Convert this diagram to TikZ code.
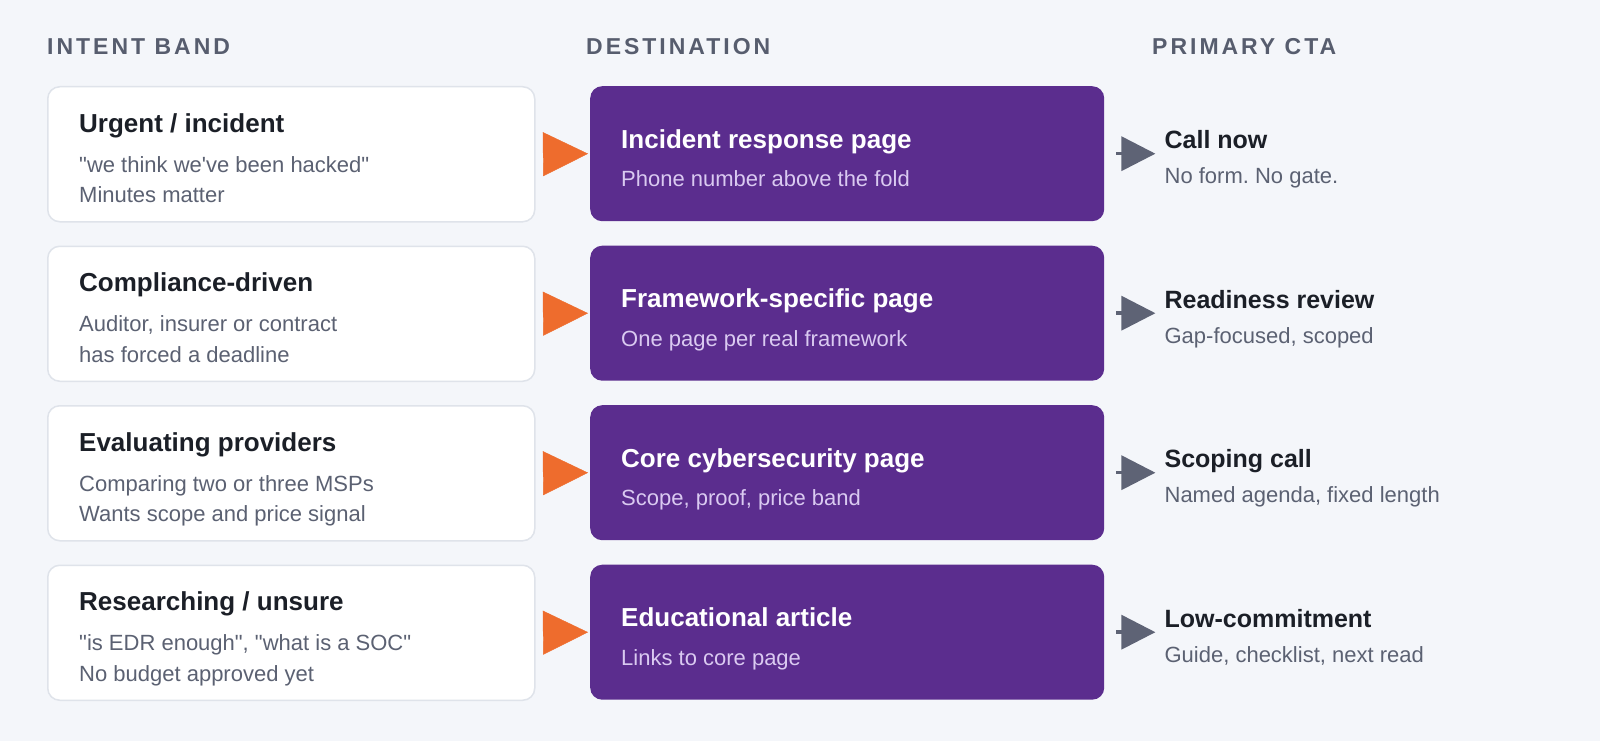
\documentclass[tikz,border=0pt]{standalone}
\usepackage{fontspec}
\setmainfont{Liberation Sans}[Ligatures=TeXOff]
\newfontface\headfont{Liberation Sans Bold}[Ligatures=TeXOff, LetterSpace=13]
\usepackage{xcolor}
\usetikzlibrary{arrows.meta}
\frenchspacing

\definecolor{pagebg}{HTML}{F4F6FA}
\definecolor{bandline}{HTML}{DFE3EA}
\definecolor{purplebox}{HTML}{5B2D8E}
\definecolor{arroworange}{HTML}{EE6C2D}
\definecolor{arrowgray}{HTML}{5E6375}
\definecolor{headgray}{HTML}{575D6E}
\definecolor{titledark}{HTML}{1B1F27}
\definecolor{subgray}{HTML}{5B6172}
\definecolor{sublavender}{HTML}{DACAF1}

\tikzset{
    bandnode/.style = {draw=bandline, line width=1.5pt, fill=white, rectangle, rounded corners=12pt,
      minimum width=487pt, minimum height=135pt, anchor=north west, inner sep=0em},
    destnode/.style = {draw=none, fill=purplebox, rectangle, rounded corners=12pt,
      minimum width=514pt, minimum height=135pt, anchor=north west, inner sep=0em},
    textnode/.style = {draw=none, fill=none, rectangle, inner sep=0em, anchor=base west},
    headnode/.style = {textnode, text=headgray, font=\headfont\fontsize{23}{23}\selectfont},
    titlenode/.style = {textnode, text=titledark, font=\fontsize{26}{26}\selectfont\bfseries},
    subnode/.style = {textnode, text=subgray, font=\fontsize{22}{22}\selectfont},
    desttitle/.style = {textnode, text=white, font=\fontsize{26}{26}\selectfont\bfseries},
    destsub/.style = {textnode, text=sublavender, font=\fontsize{22}{22}\selectfont},
    ctatitle/.style = {textnode, text=titledark, font=\fontsize{25}{25}\selectfont\bfseries},
    intoarrow/.style = {draw=arroworange, -{Triangle[length=45pt, width=44pt]}, shorten <=8pt, shorten >=2pt},
    ctaarrow/.style = {draw=arrowgray, line width=3.5pt, -{Triangle[length=34pt, width=34pt]},
      shorten <=12pt, shorten >=9pt}
}

\begin{document}
\begin{tikzpicture}[x=1pt, y=-1pt]
    \fill [pagebg] (0,0) rectangle (1600,741);
    \useasboundingbox (0,0) rectangle (1600,741);

    % column heads
    \node [name=headband, headnode] at (47,55) {INTENT BAND};
    \node [name=headdest, headnode] at (586,55) {DESTINATION};
    \node [name=headcta, headnode] at (1152,55) {PRIMARY CTA};

    % row 1
    \node [name=band1, bandnode] at (47,86) {};
    \node [name=band1t, titlenode, xshift=32pt, yshift=-46pt] at (band1.north west) {Urgent / incident};
    \node [name=band1s, subnode, xshift=32pt, yshift=-86pt] at (band1.north west) {"we think we've been hacked"};
    \node [name=band1u, subnode, xshift=32pt, yshift=-116.5pt] at (band1.north west) {Minutes matter};
    \node [name=dest1, destnode] at (590,86) {};
    \node [name=dest1t, desttitle, xshift=31pt, yshift=-62pt] at (dest1.north west) {Incident response page};
    \node [name=dest1s, destsub, xshift=31pt, yshift=-100.5pt] at (dest1.north west) {Phone number above the fold};
    \node [name=cta1, ctatitle, xshift=60pt, yshift=-62.5pt] at (dest1.north east) {Call now};
    \node [name=cta1s, subnode, xshift=60pt, yshift=-97.5pt] at (dest1.north east) {No form. No gate.};

    % row 2
    \node [name=band2, bandnode] at (47,245.5) {};
    \node [name=band2t, titlenode, xshift=32pt, yshift=-46pt] at (band2.north west) {Compliance-driven};
    \node [name=band2s, subnode, xshift=32pt, yshift=-86pt] at (band2.north west) {Auditor, insurer or contract};
    \node [name=band2u, subnode, xshift=32pt, yshift=-116.5pt] at (band2.north west) {has forced a deadline};
    \node [name=dest2, destnode] at (590,245.5) {};
    \node [name=dest2t, desttitle, xshift=31pt, yshift=-62pt] at (dest2.north west) {Framework-specific page};
    \node [name=dest2s, destsub, xshift=31pt, yshift=-100.5pt] at (dest2.north west) {One page per real framework};
    \node [name=cta2, ctatitle, xshift=60pt, yshift=-62.5pt] at (dest2.north east) {Readiness review};
    \node [name=cta2s, subnode, xshift=60pt, yshift=-97.5pt] at (dest2.north east) {Gap-focused, scoped};

    % row 3
    \node [name=band3, bandnode] at (47,405) {};
    \node [name=band3t, titlenode, xshift=32pt, yshift=-46pt] at (band3.north west) {Evaluating providers};
    \node [name=band3s, subnode, xshift=32pt, yshift=-86pt] at (band3.north west) {Comparing two or three MSPs};
    \node [name=band3u, subnode, xshift=32pt, yshift=-116.5pt] at (band3.north west) {Wants scope and price signal};
    \node [name=dest3, destnode] at (590,405) {};
    \node [name=dest3t, desttitle, xshift=31pt, yshift=-62pt] at (dest3.north west) {Core cybersecurity page};
    \node [name=dest3s, destsub, xshift=31pt, yshift=-100.5pt] at (dest3.north west) {Scope, proof, price band};
    \node [name=cta3, ctatitle, xshift=60pt, yshift=-62.5pt] at (dest3.north east) {Scoping call};
    \node [name=cta3s, subnode, xshift=60pt, yshift=-97.5pt] at (dest3.north east) {Named agenda, fixed length};

    % row 4
    \node [name=band4, bandnode] at (47,564.5) {};
    \node [name=band4t, titlenode, xshift=32pt, yshift=-46pt] at (band4.north west) {Researching / unsure};
    \node [name=band4s, subnode, xshift=32pt, yshift=-86pt] at (band4.north west) {"is EDR enough", "what is a SOC"};
    \node [name=band4u, subnode, xshift=32pt, yshift=-116.5pt] at (band4.north west) {No budget approved yet};
    \node [name=dest4, destnode] at (590,564.5) {};
    \node [name=dest4t, desttitle, xshift=31pt, yshift=-62pt] at (dest4.north west) {Educational article};
    \node [name=dest4s, destsub, xshift=31pt, yshift=-100.5pt] at (dest4.north west) {Links to core page};
    \node [name=cta4, ctatitle, xshift=60pt, yshift=-62.5pt] at (dest4.north east) {Low-commitment};
    \node [name=cta4s, subnode, xshift=60pt, yshift=-97.5pt] at (dest4.north east) {Guide, checklist, next read};

    % connectors
    \draw [intoarrow] (band1.east) -- (dest1.west);
    \draw [intoarrow] (band2.east) -- (dest2.west);
    \draw [intoarrow] (band3.east) -- (dest3.west);
    \draw [intoarrow] (band4.east) -- (dest4.west);
    \draw [ctaarrow] (dest1.east) -- (dest1.east -| cta1.west);
    \draw [ctaarrow] (dest2.east) -- (dest2.east -| cta2.west);
    \draw [ctaarrow] (dest3.east) -- (dest3.east -| cta3.west);
    \draw [ctaarrow] (dest4.east) -- (dest4.east -| cta4.west);
\end{tikzpicture}
\end{document}
